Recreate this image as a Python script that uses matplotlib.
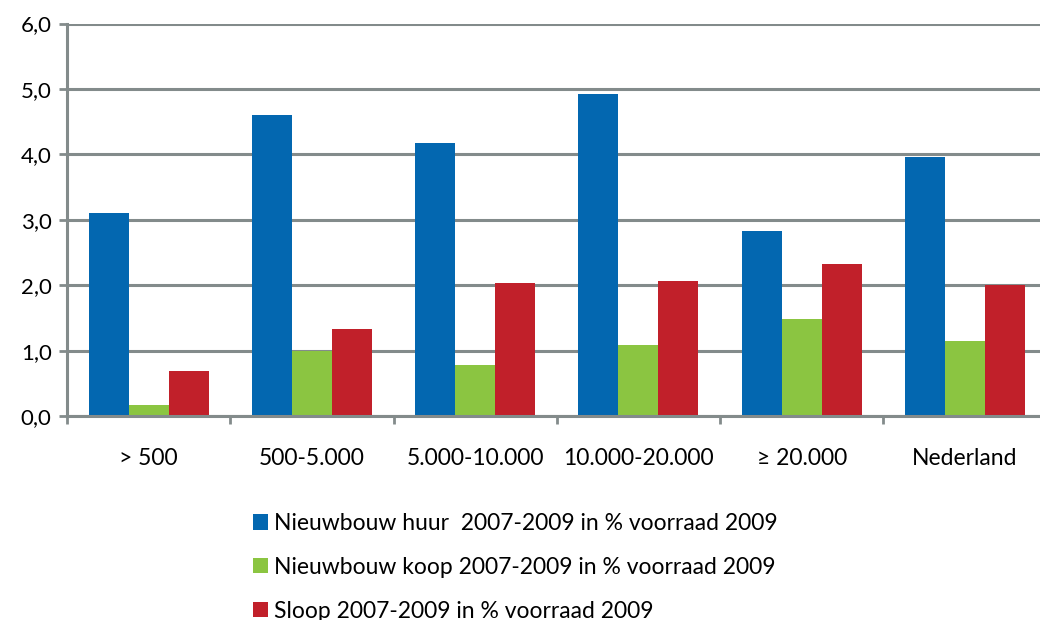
import numpy as np
import matplotlib.pyplot as plt
from matplotlib.patches import Patch

# gemeentegrootte klassen
categories = ['> 500', '500-5.000', '5.000-10.000', '10.000-20.000', '\u2265 20.000', 'Nederland']
huur = [3.10, 4.60, 4.17, 4.93, 2.83, 3.96]
koop = [0.17, 1.00, 0.78, 1.09, 1.48, 1.15]
sloop = [0.69, 1.33, 2.03, 2.06, 2.33, 2.00]
labels = ['Nieuwbouw huur  2007-2009 in % voorraad 2009',
          'Nieuwbouw koop 2007-2009 in % voorraad 2009',
          'Sloop 2007-2009 in % voorraad 2009']
colors = ['#0367B0', '#8BC541', '#C1202A']
grid_col = '#838B8B'

plt.rcParams['font.family'] = ['Lato', 'DejaVu Sans']

fig = plt.figure(figsize=(10.4, 6.2), dpi=100)
ax = fig.add_axes([0.0644, 0.329, 0.942, 0.633])

x = np.arange(len(categories))
w = 0.245
for i, (vals, c) in enumerate(zip([huur, koop, sloop], colors)):
    ax.bar(x + (i - 1) * w, vals, width=w, color=c, zorder=3)

ax.set_ylim(0, 6)
ax.set_xlim(-0.5, len(categories) - 0.5)
ax.set_yticks(np.arange(0, 7, 1))
ax.set_yticklabels([f'{v:.1f}'.replace('.', ',') for v in range(0, 7)])
ax.yaxis.grid(True, color=grid_col, linewidth=2.2, zorder=0)

# tick marks at group boundaries, labels at centres
ax.set_xticks(np.arange(-0.5, len(categories), 1))
ax.set_xticklabels([])
ax.set_xticks(x, minor=True)
ax.set_xticklabels(categories, minor=True)
ax.tick_params(axis='x', which='major', length=6, width=2, color=grid_col)
ax.tick_params(axis='x', which='minor', length=0, pad=23, labelsize=16.5)
ax.tick_params(axis='y', length=6, width=2, color=grid_col, labelsize=16, pad=5)

for s in ['top', 'right']:
    ax.spines[s].set_visible(False)
for s in ['left', 'bottom']:
    ax.spines[s].set_color(grid_col)
    ax.spines[s].set_linewidth(2.2)
    ax.spines[s].set_zorder(4)

handles = [Patch(facecolor=c) for c in colors]
fig.legend(handles, labels, loc='upper left', bbox_to_anchor=(0.243, 0.173),
           frameon=False, fontsize=16.5, handlelength=0.68, handleheight=0.68,
           handletextpad=0.25, labelspacing=1.0, borderpad=0, borderaxespad=0)

fig.savefig('out.png', dpi=100)
